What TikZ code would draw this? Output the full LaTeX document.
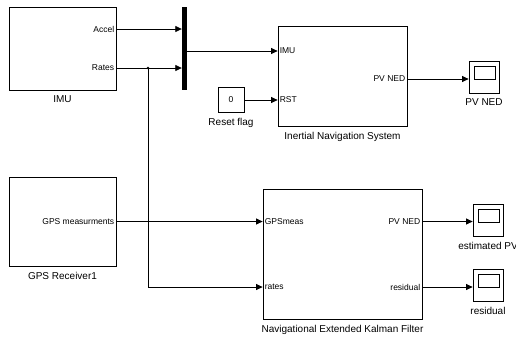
\documentclass[tikz,border=0pt]{standalone}
\usepackage{fontspec}
\setmainfont{Liberation Sans}
\usepackage{xcolor}
\usetikzlibrary{arrows.meta,positioning,calc}
\definecolor{ink}{HTML}{000000}
\tikzset{
  blk/.style  ={draw=ink,line width=0.8pt,fill=white,inner sep=0pt},
  mux/.style  ={fill=ink,inner sep=0pt,minimum width=5pt,minimum height=83pt},
  scope/.style={blk,minimum width=30pt,minimum height=32pt,
                path picture={\draw[line width=0.8pt]
                  ([xshift=5pt,yshift=-5pt]path picture bounding box.north west) rectangle
                  ([xshift=-4pt,yshift=-18pt]path picture bounding box.north east);}},
  port/.style ={inner sep=2pt,font=\fontsize{8.5}{10}\selectfont},
  lbl/.style  ={font=\fontsize{10}{12}\selectfont,label distance=2pt},
  sig/.style  ={-{Triangle[length=6.5pt,width=6pt]},line width=0.8pt,draw=ink}
}
\begin{document}
\begin{tikzpicture}[x=1pt,y=-1pt]
    \useasboundingbox[fill=white] (0,0) rectangle (516,338);
    % blocks
    \node[blk,minimum width=107pt,minimum height=83pt,
          label={[lbl]below:IMU}] (imu) at (62.5,48.5) {};
    \node[blk,minimum width=107pt,minimum height=89pt,
          label={[lbl]below:GPS Receiver1}] (gps) at (62.5,221.5) {};
    \node[mux] (mux) at (184.5,48.5) {};
    \node[blk,minimum width=26pt,minimum height=25pt,font=\fontsize{8.5}{10}\selectfont,
          label={[lbl]below:Reset flag}] (rst) at (231,100) {0};
    \node[blk,minimum width=129pt,minimum height=100pt,
          label={[lbl]below:Inertial Navigation System}] (ins) at (342.5,76) {};
    \node[blk,minimum width=159pt,minimum height=130pt,
          label={[lbl]below:Navigational Extended Kalman Filter}] (ekf) at (342.5,254) {};
    \node[scope,label={[lbl]below:PV NED}] (scpv) at (484,77) {};
    \node[scope,label={[lbl]below:estimated PV}] (scest) at (488,220) {};
    \node[scope,label={[lbl]below:residual}] (scres) at (488,285) {};
    % ports
    \node[port,anchor=east] (accel) at (imu.east |- 0,29) {Accel};
    \node[port,anchor=east] (rates) at (imu.east |- 0,68) {Rates};
    \node[port,anchor=east] (gpsout) at (gps.east |- 0,221.5) {GPS measurments};
    \node[port,anchor=west] (insimu) at (ins.west |- 0,51) {IMU};
    \node[port,anchor=west] (insrst) at (ins.west |- rst.east) {RST};
    \node[port,anchor=east] (inspv) at (ins.east |- 0,79) {PV NED};
    \node[port,anchor=west] (ekfgps) at (ekf.west |- gpsout.east) {GPSmeas};
    \node[port,anchor=west] (ekfrates) at (ekf.west |- 0,287) {rates};
    \node[port,anchor=east] (ekfpv) at (ekf.east |- ekfgps.west) {PV NED};
    \node[port,anchor=east] (ekfres) at (ekf.east |- ekfrates.west) {residual};
    \coordinate (br) at (148,0 |- rates.east);
    % signals
    \draw[sig] (accel.east) -- (mux.west |- accel.east);
    \draw[sig] (rates.east) -- (mux.west |- rates.east);
    \fill[ink] (br) circle (1.4pt);
    \draw[sig] (br) |- (ekfrates.west);
    \draw[sig] (mux.east |- insimu.west) -- (insimu.west);
    \draw[sig] (rst.east) -- (insrst.west);
    \draw[sig] (inspv.east) -- (scpv.west |- inspv.east);
    \draw[sig] (gpsout.east) -- (ekfgps.west);
    \draw[sig] (ekfpv.east) -- (scest.west |- ekfpv.east);
    \draw[sig] (ekfres.east) -- (scres.west |- ekfres.east);
\end{tikzpicture}
\end{document}
